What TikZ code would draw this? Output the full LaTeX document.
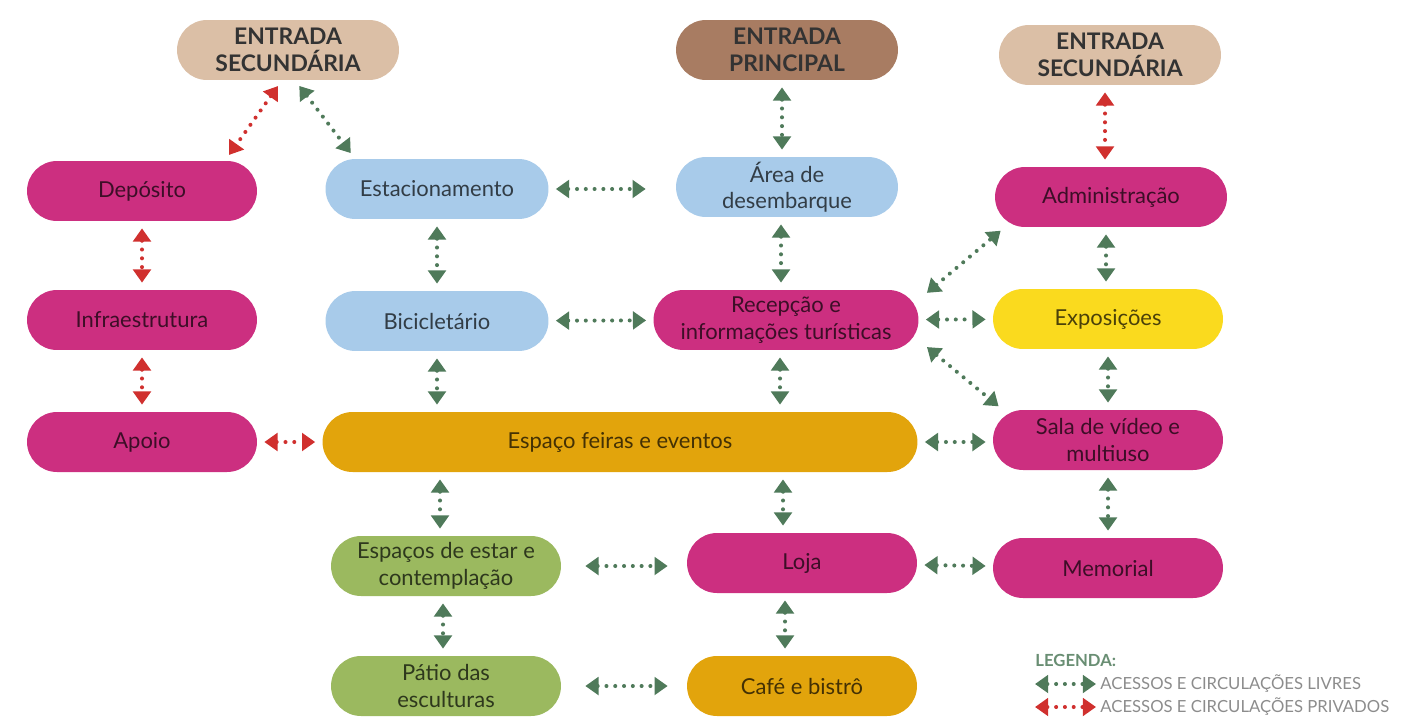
\documentclass[tikz,border=0pt]{standalone}
\usepackage{fontspec}
\setmainfont{Lato}
\usetikzlibrary{arrows.meta}
\definecolor{mag}{HTML}{CC2F80}
\definecolor{azul}{HTML}{A8CBEA}
\definecolor{amar}{HTML}{FADA1E}
\definecolor{lara}{HTML}{E2A40C}
\definecolor{verd}{HTML}{9BB95F}
\definecolor{bege}{HTML}{DBBFA6}
\definecolor{marr}{HTML}{A87C62}
\definecolor{setav}{HTML}{4F7A5A}
\definecolor{setar}{HTML}{D0302E}
\colorlet{legtxt}{black!45}

\begin{document}
\begin{tikzpicture} [x=0.02cm, y=-0.02cm, %
  box/.style={rounded corners=0.6cm, minimum width=4.6cm, minimum height=1.2cm, %
    align=center, inner sep=2pt, fill=#1, text=#1!30!black, %
    font=\fontsize{12.5}{15}\selectfont}, %
  ent/.style={box=#1, minimum width=4.44cm, text=black!80, %
    font=\fontsize{13}{15}\selectfont\bfseries}, %
  seta/.style={draw=#1, line width=2.3pt, dash pattern=on 0pt off 5pt, line cap=round, %
    {Triangle[width=10pt,length=7.5pt,fill=#1]}-{Triangle[width=10pt,length=7.5pt,fill=#1]}, %
    shorten <=4pt, shorten >=4pt}, %
  livre/.style={seta=setav}, %
  priv/.style={seta=setar}] %
\useasboundingbox (0,0) rectangle (1412,720); %
% entradas
\node [ent=bege] (ent1) at (288,50) {ENTRADA\\SECUNDÁRIA}; %
\node [ent=marr] (ent2) at (787,50) {ENTRADA\\PRINCIPAL}; %
\node [ent=bege] (ent3) at (1110,55) {ENTRADA\\SECUNDÁRIA}; %
% coluna 1
\node [box=mag] (depo) at (142,191) {Depósito}; %
\node [box=mag] (infra) at (142,320) {Infraestrutura}; %
\node [box=mag] (apoio) at (142,442) {Apoio}; %
% coluna 2
\node [box=azul, minimum width=4.46cm] (estac) at (437,189) {Estacionamento}; %
\node [box=azul, minimum width=4.46cm] (bicic) at (437,321) {Bicicletário}; %
\node [box=lara, minimum width=11.9cm] (feira) at (620,442) {Espaço feiras e eventos}; %
\node [box=verd] (estar) at (446,566) {Espaços de estar e\\contemplação}; %
\node [box=verd] (patio) at (446,686) {Pátio das\\esculturas}; %
% coluna 3
\node [box=azul, minimum width=4.44cm] (area) at (787,187) {Área de\\desembarque}; %
\node [box=mag, minimum width=5.3cm] (recep) at (786,320) {Recepção e\\informações turísticas}; %
\node [box=mag] (loja) at (802,563) {Loja}; %
\node [box=lara] (cafe) at (802,686) {Café e bistrô}; %
% coluna 4
\node [box=mag, minimum width=4.64cm] (admin) at (1111,197) {Administração}; %
\node [box=amar] (expo) at (1108,319) {Exposições}; %
\node [box=mag] (sala) at (1108,440) {Sala de vídeo e\\multiuso}; %
\node [box=mag] (memo) at (1108,568) {Memorial}; %
 %
% circulacoes
\draw [priv] ([xshift=-0.12cm]ent1.south) -- ([xshift=1.66cm]depo.north); %
\draw [livre] ([xshift=0.14cm]ent1.south) -- ([xshift=-1.64cm]estac.north); %
\draw [livre] ([xshift=-0.1cm]ent2.south) -- ([xshift=-0.1cm]ent2.south |- area.north); %
\draw [priv] ([xshift=-0.1cm]ent3.south) -- ([xshift=-0.1cm]ent3.south |- admin.north); %
\draw [priv] (depo) -- (infra); %
\draw [priv] (infra) -- (apoio); %
\draw [livre] (estac) -- (bicic); %
\draw [livre, shorten >=0.6cm] (estac.east) -- (estac.east -| area.west); %
\draw [livre] ([xshift=-0.12cm]area.south) -- ([xshift=-0.12cm]area.south |- recep.north); %
\draw [livre] (bicic) -- (recep); %
\draw [livre, shorten <=6pt, shorten >=3pt] ([yshift=-0.2cm]recep.north east) -- ([xshift=0.2cm]admin.south west); %
\draw [livre] (recep) -- (expo); %
\draw [livre, shorten <=6pt, shorten >=3pt] ([yshift=0.2cm]recep.south east) -- ([xshift=0.2cm]sala.north west); %
\draw [livre] ([xshift=-0.1cm]admin.south) -- ([xshift=-0.1cm]admin.south |- expo.north); %
\draw [livre] (expo) -- (sala); %
\draw [livre] (bicic.south) -- (bicic.south |- feira.north); %
\draw [livre] ([xshift=-0.12cm]recep.south) -- ([xshift=-0.12cm]recep.south |- feira.north); %
\draw [priv] (apoio) -- (feira); %
\draw [livre] (feira.east) -- (feira.east -| sala.west); %
\draw [livre] ([xshift=-0.12cm]feira.south -| estar.north) -- ([xshift=-0.12cm]estar.north); %
\draw [livre] ([xshift=-0.38cm]feira.south -| loja.north) -- ([xshift=-0.38cm]loja.north); %
\draw [livre] (sala) -- (memo); %
\draw [livre, shorten <=0.48cm, shorten >=0.38cm] (estar.east) -- (estar.east -| loja.west); %
\draw [livre] (loja) -- (memo); %
\draw [livre] ([xshift=-0.06cm]estar.south) -- ([xshift=-0.06cm]patio.north); %
\draw [livre] ([xshift=-0.34cm]loja.south) -- ([xshift=-0.34cm]cafe.north); %
\draw [livre, shorten <=0.48cm, shorten >=0.38cm] (patio.east) -- (patio.east -| cafe.west); %
 %
% legenda
\node [anchor=west, inner sep=0pt, text=setav!85!white, font=\fontsize{9.5}{10}\selectfont\bfseries] %
  (leg) at (1035,660) {LEGENDA:}; %
\coordinate (l1a) at (1035,684); \coordinate (l1b) at (1096,684); %
\coordinate (l2a) at (1035,707); \coordinate (l2b) at (1096,707); %
\draw [livre, shorten <=0pt, shorten >=0pt] (l1a) -- (l1b); %
\draw [priv, shorten <=0pt, shorten >=0pt] (l2a) -- (l2b); %
\node [anchor=west, inner sep=0pt, text=legtxt, font=\fontsize{9.5}{10}\selectfont] %
  (leg1) at (1100,684) {ACESSOS E CIRCULAÇÕES LIVRES}; %
\node [anchor=west, inner sep=0pt, text=legtxt, font=\fontsize{9.5}{10}\selectfont] %
  (leg2) at (1100,707) {ACESSOS E CIRCULAÇÕES PRIVADOS}; %
\end{tikzpicture}
\end{document}
